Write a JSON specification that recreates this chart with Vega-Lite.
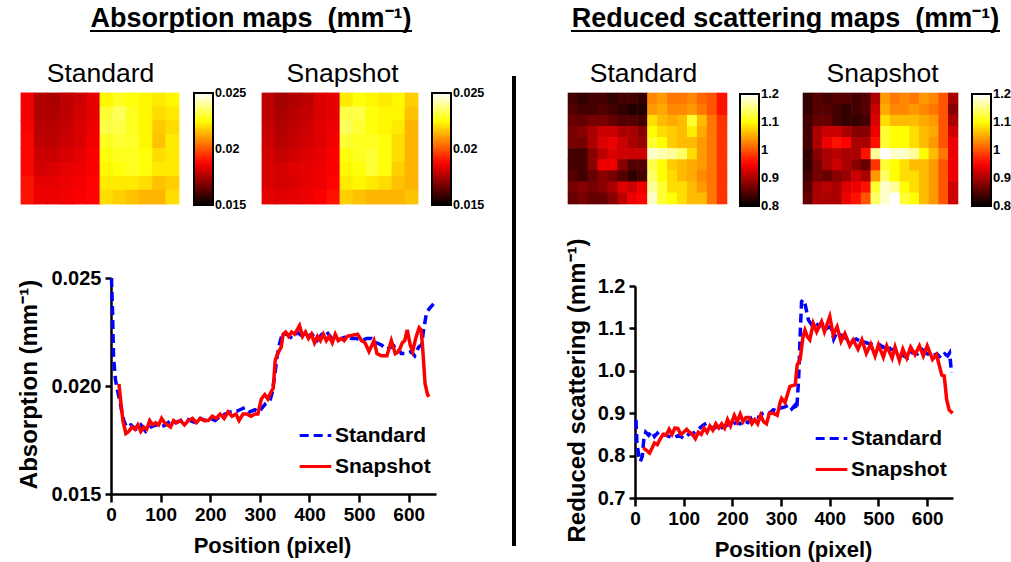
{"$schema":"https://vega.github.io/schema/vega-lite/v6.json","width":1011,"height":562,"autosize":{"type":"none"},"padding":0,"background":"white",
"config":{"view":{"stroke":null},"font":"Liberation Sans","axis":{"grid":false,"labelFlush":false,"labelFont":"Liberation Sans","titleFont":"Liberation Sans","labelColor":"#000","titleColor":"#000","domainColor":"#000","tickColor":"#000"},"legend":{"labelFont":"Liberation Sans","labelColor":"#000"}},
"datasets":{
"as":[{"c":1,"r":0,"v":0.0186},{"c":2,"r":0,"v":0.0176},{"c":3,"r":0,"v":0.0175},{"c":4,"r":0,"v":0.0178},{"c":5,"r":0,"v":0.018},{"c":6,"r":0,"v":0.0184},{"c":7,"r":0,"v":0.0224},{"c":8,"r":0,"v":0.0228},{"c":9,"r":0,"v":0.0226},{"c":10,"r":0,"v":0.0224},{"c":11,"r":0,"v":0.0222},{"c":12,"r":0,"v":0.0224},
{"c":1,"r":1,"v":0.0186},{"c":2,"r":1,"v":0.0176},{"c":3,"r":1,"v":0.0176},{"c":4,"r":1,"v":0.0178},{"c":5,"r":1,"v":0.0181},{"c":6,"r":1,"v":0.0184},{"c":7,"r":1,"v":0.023},{"c":8,"r":1,"v":0.0234},{"c":9,"r":1,"v":0.0228},{"c":10,"r":1,"v":0.0224},{"c":11,"r":1,"v":0.022},{"c":12,"r":1,"v":0.0222},
{"c":1,"r":2,"v":0.0187},{"c":2,"r":2,"v":0.0177},{"c":3,"r":2,"v":0.0177},{"c":4,"r":2,"v":0.0179},{"c":5,"r":2,"v":0.0182},{"c":6,"r":2,"v":0.0185},{"c":7,"r":2,"v":0.0232},{"c":8,"r":2,"v":0.0232},{"c":9,"r":2,"v":0.0228},{"c":10,"r":2,"v":0.0224},{"c":11,"r":2,"v":0.0217},{"c":12,"r":2,"v":0.022},
{"c":1,"r":3,"v":0.0188},{"c":2,"r":3,"v":0.0178},{"c":3,"r":3,"v":0.0178},{"c":4,"r":3,"v":0.018},{"c":5,"r":3,"v":0.0182},{"c":6,"r":3,"v":0.0186},{"c":7,"r":3,"v":0.0228},{"c":8,"r":3,"v":0.023},{"c":9,"r":3,"v":0.0229},{"c":10,"r":3,"v":0.0224},{"c":11,"r":3,"v":0.0216},{"c":12,"r":3,"v":0.0222},
{"c":1,"r":4,"v":0.0188},{"c":2,"r":4,"v":0.018},{"c":3,"r":4,"v":0.018},{"c":4,"r":4,"v":0.0182},{"c":5,"r":4,"v":0.0184},{"c":6,"r":4,"v":0.0187},{"c":7,"r":4,"v":0.0226},{"c":8,"r":4,"v":0.0228},{"c":9,"r":4,"v":0.0228},{"c":10,"r":4,"v":0.0226},{"c":11,"r":4,"v":0.022},{"c":12,"r":4,"v":0.0222},
{"c":1,"r":5,"v":0.0188},{"c":2,"r":5,"v":0.0181},{"c":3,"r":5,"v":0.0182},{"c":4,"r":5,"v":0.0184},{"c":5,"r":5,"v":0.0185},{"c":6,"r":5,"v":0.0187},{"c":7,"r":5,"v":0.0224},{"c":8,"r":5,"v":0.0226},{"c":9,"r":5,"v":0.0228},{"c":10,"r":5,"v":0.0226},{"c":11,"r":5,"v":0.0222},{"c":12,"r":5,"v":0.0222},
{"c":1,"r":6,"v":0.019},{"c":2,"r":6,"v":0.0184},{"c":3,"r":6,"v":0.0184},{"c":4,"r":6,"v":0.0185},{"c":5,"r":6,"v":0.0186},{"c":6,"r":6,"v":0.0188},{"c":7,"r":6,"v":0.0222},{"c":8,"r":6,"v":0.0222},{"c":9,"r":6,"v":0.0222},{"c":10,"r":6,"v":0.022},{"c":11,"r":6,"v":0.0216},{"c":12,"r":6,"v":0.0218},
{"c":1,"r":7,"v":0.019},{"c":2,"r":7,"v":0.0185},{"c":3,"r":7,"v":0.0185},{"c":4,"r":7,"v":0.0186},{"c":5,"r":7,"v":0.0187},{"c":6,"r":7,"v":0.0188},{"c":7,"r":7,"v":0.022},{"c":8,"r":7,"v":0.0218},{"c":9,"r":7,"v":0.0216},{"c":10,"r":7,"v":0.0214},{"c":11,"r":7,"v":0.0214},{"c":12,"r":7,"v":0.022}],
"ap":[{"c":1,"r":0,"v":0.0178},{"c":2,"r":0,"v":0.0174},{"c":3,"r":0,"v":0.0176},{"c":4,"r":0,"v":0.0178},{"c":5,"r":0,"v":0.0182},{"c":6,"r":0,"v":0.0184},{"c":7,"r":0,"v":0.0222},{"c":8,"r":0,"v":0.0226},{"c":9,"r":0,"v":0.0224},{"c":10,"r":0,"v":0.0222},{"c":11,"r":0,"v":0.0224},{"c":12,"r":0,"v":0.0218},
{"c":1,"r":1,"v":0.0178},{"c":2,"r":1,"v":0.0175},{"c":3,"r":1,"v":0.0177},{"c":4,"r":1,"v":0.0179},{"c":5,"r":1,"v":0.0182},{"c":6,"r":1,"v":0.0184},{"c":7,"r":1,"v":0.0232},{"c":8,"r":1,"v":0.0232},{"c":9,"r":1,"v":0.0226},{"c":10,"r":1,"v":0.0224},{"c":11,"r":1,"v":0.0224},{"c":12,"r":1,"v":0.0216},
{"c":1,"r":2,"v":0.0179},{"c":2,"r":2,"v":0.0176},{"c":3,"r":2,"v":0.0178},{"c":4,"r":2,"v":0.018},{"c":5,"r":2,"v":0.0183},{"c":6,"r":2,"v":0.0185},{"c":7,"r":2,"v":0.0234},{"c":8,"r":2,"v":0.023},{"c":9,"r":2,"v":0.0226},{"c":10,"r":2,"v":0.0224},{"c":11,"r":2,"v":0.0222},{"c":12,"r":2,"v":0.0214},
{"c":1,"r":3,"v":0.018},{"c":2,"r":3,"v":0.0177},{"c":3,"r":3,"v":0.0179},{"c":4,"r":3,"v":0.0181},{"c":5,"r":3,"v":0.0183},{"c":6,"r":3,"v":0.0186},{"c":7,"r":3,"v":0.023},{"c":8,"r":3,"v":0.0228},{"c":9,"r":3,"v":0.0228},{"c":10,"r":3,"v":0.0226},{"c":11,"r":3,"v":0.022},{"c":12,"r":3,"v":0.0214},
{"c":1,"r":4,"v":0.0181},{"c":2,"r":4,"v":0.0179},{"c":3,"r":4,"v":0.0181},{"c":4,"r":4,"v":0.0183},{"c":5,"r":4,"v":0.0184},{"c":6,"r":4,"v":0.0187},{"c":7,"r":4,"v":0.0226},{"c":8,"r":4,"v":0.0228},{"c":9,"r":4,"v":0.023},{"c":10,"r":4,"v":0.0226},{"c":11,"r":4,"v":0.022},{"c":12,"r":4,"v":0.0214},
{"c":1,"r":5,"v":0.0182},{"c":2,"r":5,"v":0.0181},{"c":3,"r":5,"v":0.0183},{"c":4,"r":5,"v":0.0184},{"c":5,"r":5,"v":0.0185},{"c":6,"r":5,"v":0.0187},{"c":7,"r":5,"v":0.0224},{"c":8,"r":5,"v":0.0226},{"c":9,"r":5,"v":0.023},{"c":10,"r":5,"v":0.0226},{"c":11,"r":5,"v":0.0218},{"c":12,"r":5,"v":0.0214},
{"c":1,"r":6,"v":0.0182},{"c":2,"r":6,"v":0.0181},{"c":3,"r":6,"v":0.0182},{"c":4,"r":6,"v":0.0184},{"c":5,"r":6,"v":0.0185},{"c":6,"r":6,"v":0.0188},{"c":7,"r":6,"v":0.0222},{"c":8,"r":6,"v":0.0224},{"c":9,"r":6,"v":0.0222},{"c":10,"r":6,"v":0.022},{"c":11,"r":6,"v":0.0216},{"c":12,"r":6,"v":0.0214},
{"c":1,"r":7,"v":0.0184},{"c":2,"r":7,"v":0.0183},{"c":3,"r":7,"v":0.0184},{"c":4,"r":7,"v":0.0185},{"c":5,"r":7,"v":0.0187},{"c":6,"r":7,"v":0.019},{"c":7,"r":7,"v":0.0218},{"c":8,"r":7,"v":0.0216},{"c":9,"r":7,"v":0.0214},{"c":10,"r":7,"v":0.0214},{"c":11,"r":7,"v":0.0214},{"c":12,"r":7,"v":0.0216}],
"ss":[{"c":1,"r":0,"v":0.84},{"c":2,"r":0,"v":0.83},{"c":3,"r":0,"v":0.84},{"c":4,"r":0,"v":0.84},{"c":5,"r":0,"v":0.83},{"c":6,"r":0,"v":0.84},{"c":7,"r":0,"v":0.84},{"c":8,"r":0,"v":0.83},{"c":9,"r":0,"v":1.03},{"c":10,"r":0,"v":1.04},{"c":11,"r":0,"v":1.02},{"c":12,"r":0,"v":1.02},{"c":13,"r":0,"v":1.03},{"c":14,"r":0,"v":1.01},{"c":15,"r":0,"v":1},{"c":16,"r":0,"v":0.96},
{"c":1,"r":1,"v":0.85},{"c":2,"r":1,"v":0.84},{"c":3,"r":1,"v":0.84},{"c":4,"r":1,"v":0.85},{"c":5,"r":1,"v":0.84},{"c":6,"r":1,"v":0.83},{"c":7,"r":1,"v":0.82},{"c":8,"r":1,"v":0.82},{"c":9,"r":1,"v":1.04},{"c":10,"r":1,"v":1.05},{"c":11,"r":1,"v":1.03},{"c":12,"r":1,"v":1.03},{"c":13,"r":1,"v":1.04},{"c":14,"r":1,"v":1.02},{"c":15,"r":1,"v":1},{"c":16,"r":1,"v":0.96},
{"c":1,"r":2,"v":0.86},{"c":2,"r":2,"v":0.86},{"c":3,"r":2,"v":0.87},{"c":4,"r":2,"v":0.87},{"c":5,"r":2,"v":0.86},{"c":6,"r":2,"v":0.85},{"c":7,"r":2,"v":0.85},{"c":8,"r":2,"v":0.84},{"c":9,"r":2,"v":1.08},{"c":10,"r":2,"v":1.06},{"c":11,"r":2,"v":1.05},{"c":12,"r":2,"v":1.06},{"c":13,"r":2,"v":1.12},{"c":14,"r":2,"v":1.06},{"c":15,"r":2,"v":1.02},{"c":16,"r":2,"v":0.98},
{"c":1,"r":3,"v":0.87},{"c":2,"r":3,"v":0.88},{"c":3,"r":3,"v":0.9},{"c":4,"r":3,"v":0.92},{"c":5,"r":3,"v":0.92},{"c":6,"r":3,"v":0.9},{"c":7,"r":3,"v":0.9},{"c":8,"r":3,"v":0.88},{"c":9,"r":3,"v":1.1},{"c":10,"r":3,"v":1.08},{"c":11,"r":3,"v":1.07},{"c":12,"r":3,"v":1.06},{"c":13,"r":3,"v":1.09},{"c":14,"r":3,"v":1.05},{"c":15,"r":3,"v":1.02},{"c":16,"r":3,"v":0.98},
{"c":1,"r":4,"v":0.87},{"c":2,"r":4,"v":0.87},{"c":3,"r":4,"v":0.9},{"c":4,"r":4,"v":0.93},{"c":5,"r":4,"v":0.94},{"c":6,"r":4,"v":0.92},{"c":7,"r":4,"v":0.9},{"c":8,"r":4,"v":0.89},{"c":9,"r":4,"v":1.12},{"c":10,"r":4,"v":1.1},{"c":11,"r":4,"v":1.07},{"c":12,"r":4,"v":1.06},{"c":13,"r":4,"v":1.06},{"c":14,"r":4,"v":1.04},{"c":15,"r":4,"v":1.02},{"c":16,"r":4,"v":0.98},
{"c":1,"r":5,"v":0.84},{"c":2,"r":5,"v":0.84},{"c":3,"r":5,"v":0.88},{"c":4,"r":5,"v":0.91},{"c":5,"r":5,"v":0.93},{"c":6,"r":5,"v":0.92},{"c":7,"r":5,"v":0.92},{"c":8,"r":5,"v":0.92},{"c":9,"r":5,"v":1.18},{"c":10,"r":5,"v":1.17},{"c":11,"r":5,"v":1.16},{"c":12,"r":5,"v":1.14},{"c":13,"r":5,"v":1.08},{"c":14,"r":5,"v":1.04},{"c":15,"r":5,"v":1.02},{"c":16,"r":5,"v":0.98},
{"c":1,"r":6,"v":0.84},{"c":2,"r":6,"v":0.84},{"c":3,"r":6,"v":0.88},{"c":4,"r":6,"v":0.94},{"c":5,"r":6,"v":0.94},{"c":6,"r":6,"v":0.88},{"c":7,"r":6,"v":0.85},{"c":8,"r":6,"v":0.85},{"c":9,"r":6,"v":1.13},{"c":10,"r":6,"v":1.1},{"c":11,"r":6,"v":1.07},{"c":12,"r":6,"v":1.06},{"c":13,"r":6,"v":1.05},{"c":14,"r":6,"v":1.04},{"c":15,"r":6,"v":1.02},{"c":16,"r":6,"v":0.98},
{"c":1,"r":7,"v":0.85},{"c":2,"r":7,"v":0.84},{"c":3,"r":7,"v":0.86},{"c":4,"r":7,"v":0.88},{"c":5,"r":7,"v":0.87},{"c":6,"r":7,"v":0.85},{"c":7,"r":7,"v":0.83},{"c":8,"r":7,"v":0.84},{"c":9,"r":7,"v":1.14},{"c":10,"r":7,"v":1.1},{"c":11,"r":7,"v":1.08},{"c":12,"r":7,"v":1.06},{"c":13,"r":7,"v":1.05},{"c":14,"r":7,"v":1.03},{"c":15,"r":7,"v":1.02},{"c":16,"r":7,"v":0.98},
{"c":1,"r":8,"v":0.87},{"c":2,"r":8,"v":0.88},{"c":3,"r":8,"v":0.87},{"c":4,"r":8,"v":0.88},{"c":5,"r":8,"v":0.9},{"c":6,"r":8,"v":0.93},{"c":7,"r":8,"v":0.92},{"c":8,"r":8,"v":0.94},{"c":9,"r":8,"v":1.16},{"c":10,"r":8,"v":1.12},{"c":11,"r":8,"v":1.08},{"c":12,"r":8,"v":1.08},{"c":13,"r":8,"v":1.06},{"c":14,"r":8,"v":1.04},{"c":15,"r":8,"v":1.02},{"c":16,"r":8,"v":0.98},
{"c":1,"r":9,"v":0.86},{"c":2,"r":9,"v":0.87},{"c":3,"r":9,"v":0.86},{"c":4,"r":9,"v":0.86},{"c":5,"r":9,"v":0.88},{"c":6,"r":9,"v":0.91},{"c":7,"r":9,"v":0.94},{"c":8,"r":9,"v":0.95},{"c":9,"r":9,"v":1.18},{"c":10,"r":9,"v":1.12},{"c":11,"r":9,"v":1.1},{"c":12,"r":9,"v":1.08},{"c":13,"r":9,"v":1.06},{"c":14,"r":9,"v":1.06},{"c":15,"r":9,"v":1.02},{"c":16,"r":9,"v":0.98}],
"sp":[{"c":1,"r":0,"v":0.83},{"c":2,"r":0,"v":0.85},{"c":3,"r":0,"v":0.84},{"c":4,"r":0,"v":0.85},{"c":5,"r":0,"v":0.85},{"c":6,"r":0,"v":0.84},{"c":7,"r":0,"v":0.85},{"c":8,"r":0,"v":0.9},{"c":9,"r":0,"v":1.04},{"c":10,"r":0,"v":1.02},{"c":11,"r":0,"v":1.03},{"c":12,"r":0,"v":1.02},{"c":13,"r":0,"v":1.04},{"c":14,"r":0,"v":1.03},{"c":15,"r":0,"v":1},{"c":16,"r":0,"v":0.9},
{"c":1,"r":1,"v":0.83},{"c":2,"r":1,"v":0.85},{"c":3,"r":1,"v":0.85},{"c":4,"r":1,"v":0.84},{"c":5,"r":1,"v":0.83},{"c":6,"r":1,"v":0.84},{"c":7,"r":1,"v":0.85},{"c":8,"r":1,"v":0.92},{"c":9,"r":1,"v":1.05},{"c":10,"r":1,"v":1.03},{"c":11,"r":1,"v":1.03},{"c":12,"r":1,"v":1.04},{"c":13,"r":1,"v":1.03},{"c":14,"r":1,"v":1.02},{"c":15,"r":1,"v":1},{"c":16,"r":1,"v":0.88},
{"c":1,"r":2,"v":0.84},{"c":2,"r":2,"v":0.86},{"c":3,"r":2,"v":0.86},{"c":4,"r":2,"v":0.84},{"c":5,"r":2,"v":0.83},{"c":6,"r":2,"v":0.83},{"c":7,"r":2,"v":0.84},{"c":8,"r":2,"v":0.93},{"c":9,"r":2,"v":1.08},{"c":10,"r":2,"v":1.06},{"c":11,"r":2,"v":1.06},{"c":12,"r":2,"v":1.06},{"c":13,"r":2,"v":1.05},{"c":14,"r":2,"v":1.04},{"c":15,"r":2,"v":1},{"c":16,"r":2,"v":0.9},
{"c":1,"r":3,"v":0.84},{"c":2,"r":3,"v":0.9},{"c":3,"r":3,"v":0.92},{"c":4,"r":3,"v":0.92},{"c":5,"r":3,"v":0.9},{"c":6,"r":3,"v":0.88},{"c":7,"r":3,"v":0.88},{"c":8,"r":3,"v":0.94},{"c":9,"r":3,"v":1.12},{"c":10,"r":3,"v":1.1},{"c":11,"r":3,"v":1.1},{"c":12,"r":3,"v":1.08},{"c":13,"r":3,"v":1.06},{"c":14,"r":3,"v":1.05},{"c":15,"r":3,"v":1},{"c":16,"r":3,"v":0.92},
{"c":1,"r":4,"v":0.84},{"c":2,"r":4,"v":0.9},{"c":3,"r":4,"v":0.94},{"c":4,"r":4,"v":0.96},{"c":5,"r":4,"v":0.95},{"c":6,"r":4,"v":0.9},{"c":7,"r":4,"v":0.9},{"c":8,"r":4,"v":0.96},{"c":9,"r":4,"v":1.12},{"c":10,"r":4,"v":1.1},{"c":11,"r":4,"v":1.1},{"c":12,"r":4,"v":1.08},{"c":13,"r":4,"v":1.06},{"c":14,"r":4,"v":1.04},{"c":15,"r":4,"v":1},{"c":16,"r":4,"v":0.94},
{"c":1,"r":5,"v":0.83},{"c":2,"r":5,"v":0.88},{"c":3,"r":5,"v":0.9},{"c":4,"r":5,"v":0.91},{"c":5,"r":5,"v":0.9},{"c":6,"r":5,"v":0.9},{"c":7,"r":5,"v":0.96},{"c":8,"r":5,"v":1.16},{"c":9,"r":5,"v":1.2},{"c":10,"r":5,"v":1.18},{"c":11,"r":5,"v":1.18},{"c":12,"r":5,"v":1.16},{"c":13,"r":5,"v":1.1},{"c":14,"r":5,"v":1.06},{"c":15,"r":5,"v":1.02},{"c":16,"r":5,"v":0.94},
{"c":1,"r":6,"v":0.83},{"c":2,"r":6,"v":0.87},{"c":3,"r":6,"v":0.9},{"c":4,"r":6,"v":0.92},{"c":5,"r":6,"v":0.9},{"c":6,"r":6,"v":0.88},{"c":7,"r":6,"v":0.86},{"c":8,"r":6,"v":0.98},{"c":9,"r":6,"v":1.12},{"c":10,"r":6,"v":1.1},{"c":11,"r":6,"v":1.08},{"c":12,"r":6,"v":1.06},{"c":13,"r":6,"v":1.06},{"c":14,"r":6,"v":1.04},{"c":15,"r":6,"v":1},{"c":16,"r":6,"v":0.94},
{"c":1,"r":7,"v":0.84},{"c":2,"r":7,"v":0.87},{"c":3,"r":7,"v":0.86},{"c":4,"r":7,"v":0.88},{"c":5,"r":7,"v":0.89},{"c":6,"r":7,"v":0.92},{"c":7,"r":7,"v":0.9},{"c":8,"r":7,"v":1.04},{"c":9,"r":7,"v":1.14},{"c":10,"r":7,"v":1.1},{"c":11,"r":7,"v":1.08},{"c":12,"r":7,"v":1.08},{"c":13,"r":7,"v":1.06},{"c":14,"r":7,"v":1.04},{"c":15,"r":7,"v":1},{"c":16,"r":7,"v":0.94},
{"c":1,"r":8,"v":0.85},{"c":2,"r":8,"v":0.9},{"c":3,"r":8,"v":0.91},{"c":4,"r":8,"v":0.9},{"c":5,"r":8,"v":0.93},{"c":6,"r":8,"v":0.94},{"c":7,"r":8,"v":0.96},{"c":8,"r":8,"v":1.12},{"c":9,"r":8,"v":1.18},{"c":10,"r":8,"v":1.16},{"c":11,"r":8,"v":1.1},{"c":12,"r":8,"v":1.08},{"c":13,"r":8,"v":1.06},{"c":14,"r":8,"v":1.04},{"c":15,"r":8,"v":1},{"c":16,"r":8,"v":0.92},
{"c":1,"r":9,"v":0.86},{"c":2,"r":9,"v":0.9},{"c":3,"r":9,"v":0.9},{"c":4,"r":9,"v":0.9},{"c":5,"r":9,"v":0.94},{"c":6,"r":9,"v":0.96},{"c":7,"r":9,"v":1},{"c":8,"r":9,"v":1.14},{"c":9,"r":9,"v":1.18},{"c":10,"r":9,"v":1.2},{"c":11,"r":9,"v":1.12},{"c":12,"r":9,"v":1.1},{"c":13,"r":9,"v":1.06},{"c":14,"r":9,"v":1.04},{"c":15,"r":9,"v":1},{"c":16,"r":9,"v":0.92}],
"la":[{"p":1,"s":"Standard","y":0.025},{"p":3,"s":"Standard","y":0.0235},{"p":5,"s":"Standard","y":0.0214},{"p":7,"s":"Standard","y":0.0208},{"p":9,"s":"Standard","y":0.0203},{"p":12,"s":"Standard","y":0.0199},{"p":14,"s":"Standard","y":0.0197},{"p":18,"s":"Standard","y":0.0193},{"p":21,"s":"Standard","y":0.0189},{"p":26,"s":"Standard","y":0.0184},{"p":31,"s":"Standard","y":0.0181},{"p":40,"s":"Standard","y":0.0182},{"p":50,"s":"Standard","y":0.018},{"p":60,"s":"Standard","y":0.0182},{"p":70,"s":"Standard","y":0.0179},{"p":80,"s":"Standard","y":0.0181},{"p":90,"s":"Standard","y":0.0182},{"p":100,"s":"Standard","y":0.0181},{"p":110,"s":"Standard","y":0.0182},{"p":120,"s":"Standard","y":0.0184},{"p":130,"s":"Standard","y":0.0183},{"p":140,"s":"Standard","y":0.0184},{"p":150,"s":"Standard","y":0.0185},{"p":160,"s":"Standard","y":0.0184},{"p":170,"s":"Standard","y":0.0183},{"p":180,"s":"Standard","y":0.0185},{"p":190,"s":"Standard","y":0.0184},{"p":200,"s":"Standard","y":0.0185},{"p":210,"s":"Standard","y":0.0184},{"p":220,"s":"Standard","y":0.0186},{"p":230,"s":"Standard","y":0.0187},{"p":240,"s":"Standard","y":0.0188},{"p":250,"s":"Standard","y":0.0188},{"p":260,"s":"Standard","y":0.0189},{"p":270,"s":"Standard","y":0.019},{"p":280,"s":"Standard","y":0.0188},{"p":290,"s":"Standard","y":0.0189},{"p":298,"s":"Standard","y":0.0188},{"p":305,"s":"Standard","y":0.019},{"p":312,"s":"Standard","y":0.0192},{"p":320,"s":"Standard","y":0.0193},{"p":325,"s":"Standard","y":0.0197},{"p":330,"s":"Standard","y":0.0205},{"p":335,"s":"Standard","y":0.0214},{"p":340,"s":"Standard","y":0.022},{"p":345,"s":"Standard","y":0.0224},{"p":355,"s":"Standard","y":0.0224},{"p":365,"s":"Standard","y":0.0222},{"p":375,"s":"Standard","y":0.0225},{"p":385,"s":"Standard","y":0.0223},{"p":395,"s":"Standard","y":0.0223},{"p":405,"s":"Standard","y":0.0224},{"p":415,"s":"Standard","y":0.0221},{"p":425,"s":"Standard","y":0.0224},{"p":435,"s":"Standard","y":0.0225},{"p":445,"s":"Standard","y":0.0222},{"p":455,"s":"Standard","y":0.0221},{"p":465,"s":"Standard","y":0.0222},{"p":475,"s":"Standard","y":0.0223},{"p":485,"s":"Standard","y":0.0222},{"p":495,"s":"Standard","y":0.0222},{"p":505,"s":"Standard","y":0.0221},{"p":515,"s":"Standard","y":0.0222},{"p":525,"s":"Standard","y":0.0222},{"p":535,"s":"Standard","y":0.022},{"p":545,"s":"Standard","y":0.0219},{"p":555,"s":"Standard","y":0.0217},{"p":565,"s":"Standard","y":0.0218},{"p":575,"s":"Standard","y":0.0219},{"p":585,"s":"Standard","y":0.0215},{"p":595,"s":"Standard","y":0.0215},{"p":605,"s":"Standard","y":0.0216},{"p":612,"s":"Standard","y":0.0214},{"p":620,"s":"Standard","y":0.0218},{"p":626,"s":"Standard","y":0.0219},{"p":630,"s":"Standard","y":0.0226},{"p":636,"s":"Standard","y":0.0234},{"p":642,"s":"Standard","y":0.0236},{"p":650,"s":"Standard","y":0.0238},
{"p":16,"s":"Snapshot","y":0.0201},{"p":20,"s":"Snapshot","y":0.0192},{"p":24,"s":"Snapshot","y":0.0184},{"p":30,"s":"Snapshot","y":0.0178},{"p":36,"s":"Snapshot","y":0.0179},{"p":42,"s":"Snapshot","y":0.0181},{"p":48,"s":"Snapshot","y":0.018},{"p":54,"s":"Snapshot","y":0.0182},{"p":60,"s":"Snapshot","y":0.0179},{"p":66,"s":"Snapshot","y":0.0181},{"p":72,"s":"Snapshot","y":0.018},{"p":78,"s":"Snapshot","y":0.0184},{"p":84,"s":"Snapshot","y":0.0182},{"p":90,"s":"Snapshot","y":0.0183},{"p":96,"s":"Snapshot","y":0.0182},{"p":102,"s":"Snapshot","y":0.0185},{"p":108,"s":"Snapshot","y":0.0183},{"p":114,"s":"Snapshot","y":0.0182},{"p":120,"s":"Snapshot","y":0.0181},{"p":126,"s":"Snapshot","y":0.0184},{"p":132,"s":"Snapshot","y":0.0183},{"p":140,"s":"Snapshot","y":0.0184},{"p":148,"s":"Snapshot","y":0.0182},{"p":156,"s":"Snapshot","y":0.0184},{"p":164,"s":"Snapshot","y":0.0185},{"p":172,"s":"Snapshot","y":0.0183},{"p":180,"s":"Snapshot","y":0.0185},{"p":188,"s":"Snapshot","y":0.0184},{"p":196,"s":"Snapshot","y":0.0184},{"p":204,"s":"Snapshot","y":0.0186},{"p":212,"s":"Snapshot","y":0.0185},{"p":220,"s":"Snapshot","y":0.0187},{"p":228,"s":"Snapshot","y":0.0185},{"p":236,"s":"Snapshot","y":0.0188},{"p":244,"s":"Snapshot","y":0.0186},{"p":252,"s":"Snapshot","y":0.0187},{"p":258,"s":"Snapshot","y":0.0184},{"p":266,"s":"Snapshot","y":0.0187},{"p":274,"s":"Snapshot","y":0.0187},{"p":282,"s":"Snapshot","y":0.0186},{"p":290,"s":"Snapshot","y":0.0187},{"p":296,"s":"Snapshot","y":0.0187},{"p":303,"s":"Snapshot","y":0.0194},{"p":310,"s":"Snapshot","y":0.0196},{"p":316,"s":"Snapshot","y":0.0194},{"p":322,"s":"Snapshot","y":0.0197},{"p":327,"s":"Snapshot","y":0.0199},{"p":331,"s":"Snapshot","y":0.0212},{"p":336,"s":"Snapshot","y":0.0215},{"p":343,"s":"Snapshot","y":0.0218},{"p":347,"s":"Snapshot","y":0.0224},{"p":352,"s":"Snapshot","y":0.0225},{"p":358,"s":"Snapshot","y":0.0223},{"p":364,"s":"Snapshot","y":0.0225},{"p":370,"s":"Snapshot","y":0.0224},{"p":380,"s":"Snapshot","y":0.0228},{"p":386,"s":"Snapshot","y":0.0223},{"p":392,"s":"Snapshot","y":0.0225},{"p":398,"s":"Snapshot","y":0.0222},{"p":404,"s":"Snapshot","y":0.0224},{"p":410,"s":"Snapshot","y":0.022},{"p":416,"s":"Snapshot","y":0.0223},{"p":422,"s":"Snapshot","y":0.0221},{"p":428,"s":"Snapshot","y":0.0224},{"p":434,"s":"Snapshot","y":0.0221},{"p":440,"s":"Snapshot","y":0.0223},{"p":446,"s":"Snapshot","y":0.022},{"p":452,"s":"Snapshot","y":0.0224},{"p":458,"s":"Snapshot","y":0.0221},{"p":464,"s":"Snapshot","y":0.0222},{"p":470,"s":"Snapshot","y":0.0221},{"p":476,"s":"Snapshot","y":0.0223},{"p":497,"s":"Snapshot","y":0.0224},{"p":505,"s":"Snapshot","y":0.0221},{"p":512,"s":"Snapshot","y":0.022},{"p":520,"s":"Snapshot","y":0.0216},{"p":530,"s":"Snapshot","y":0.0221},{"p":536,"s":"Snapshot","y":0.0215},{"p":545,"s":"Snapshot","y":0.0214},{"p":556,"s":"Snapshot","y":0.0214},{"p":565,"s":"Snapshot","y":0.0221},{"p":573,"s":"Snapshot","y":0.0215},{"p":580,"s":"Snapshot","y":0.0216},{"p":587,"s":"Snapshot","y":0.022},{"p":592,"s":"Snapshot","y":0.0221},{"p":597,"s":"Snapshot","y":0.0226},{"p":603,"s":"Snapshot","y":0.0219},{"p":608,"s":"Snapshot","y":0.0216},{"p":614,"s":"Snapshot","y":0.0222},{"p":621,"s":"Snapshot","y":0.0227},{"p":625,"s":"Snapshot","y":0.0226},{"p":628,"s":"Snapshot","y":0.0218},{"p":633,"s":"Snapshot","y":0.0201},{"p":638,"s":"Snapshot","y":0.0196},{"p":641,"s":"Snapshot","y":0.0195}],
"ls":[{"p":2,"s":"Standard","y":0.884},{"p":4,"s":"Standard","y":0.83},{"p":8,"s":"Standard","y":0.798},{"p":11,"s":"Standard","y":0.786},{"p":15,"s":"Standard","y":0.798},{"p":18,"s":"Standard","y":0.837},{"p":22,"s":"Standard","y":0.855},{"p":28,"s":"Standard","y":0.848},{"p":34,"s":"Standard","y":0.857},{"p":40,"s":"Standard","y":0.845},{"p":46,"s":"Standard","y":0.853},{"p":52,"s":"Standard","y":0.845},{"p":60,"s":"Standard","y":0.85},{"p":70,"s":"Standard","y":0.845},{"p":80,"s":"Standard","y":0.842},{"p":90,"s":"Standard","y":0.848},{"p":100,"s":"Standard","y":0.841},{"p":110,"s":"Standard","y":0.85},{"p":120,"s":"Standard","y":0.853},{"p":130,"s":"Standard","y":0.862},{"p":140,"s":"Standard","y":0.872},{"p":148,"s":"Standard","y":0.877},{"p":156,"s":"Standard","y":0.865},{"p":164,"s":"Standard","y":0.868},{"p":172,"s":"Standard","y":0.86},{"p":180,"s":"Standard","y":0.868},{"p":190,"s":"Standard","y":0.872},{"p":199,"s":"Standard","y":0.873},{"p":208,"s":"Standard","y":0.878},{"p":216,"s":"Standard","y":0.875},{"p":224,"s":"Standard","y":0.882},{"p":232,"s":"Standard","y":0.878},{"p":240,"s":"Standard","y":0.89},{"p":247,"s":"Standard","y":0.892},{"p":256,"s":"Standard","y":0.89},{"p":262,"s":"Standard","y":0.9},{"p":268,"s":"Standard","y":0.904},{"p":276,"s":"Standard","y":0.9},{"p":284,"s":"Standard","y":0.908},{"p":292,"s":"Standard","y":0.905},{"p":299,"s":"Standard","y":0.912},{"p":308,"s":"Standard","y":0.915},{"p":316,"s":"Standard","y":0.92},{"p":322,"s":"Standard","y":0.91},{"p":328,"s":"Standard","y":0.918},{"p":332,"s":"Standard","y":0.908},{"p":336,"s":"Standard","y":0.979},{"p":339,"s":"Standard","y":1.08},{"p":342,"s":"Standard","y":1.163},{"p":345,"s":"Standard","y":1.168},{"p":349,"s":"Standard","y":1.159},{"p":356,"s":"Standard","y":1.12},{"p":362,"s":"Standard","y":1.11},{"p":370,"s":"Standard","y":1.115},{"p":378,"s":"Standard","y":1.105},{"p":386,"s":"Standard","y":1.11},{"p":394,"s":"Standard","y":1.1},{"p":402,"s":"Standard","y":1.105},{"p":408,"s":"Standard","y":1.075},{"p":414,"s":"Standard","y":1.09},{"p":422,"s":"Standard","y":1.085},{"p":430,"s":"Standard","y":1.08},{"p":438,"s":"Standard","y":1.07},{"p":446,"s":"Standard","y":1.07},{"p":454,"s":"Standard","y":1.075},{"p":462,"s":"Standard","y":1.07},{"p":470,"s":"Standard","y":1.068},{"p":478,"s":"Standard","y":1.065},{"p":486,"s":"Standard","y":1.063},{"p":494,"s":"Standard","y":1.06},{"p":502,"s":"Standard","y":1.062},{"p":510,"s":"Standard","y":1.055},{"p":518,"s":"Standard","y":1.06},{"p":526,"s":"Standard","y":1.05},{"p":534,"s":"Standard","y":1.05},{"p":542,"s":"Standard","y":1.04},{"p":552,"s":"Standard","y":1.035},{"p":560,"s":"Standard","y":1.03},{"p":570,"s":"Standard","y":1.045},{"p":580,"s":"Standard","y":1.04},{"p":590,"s":"Standard","y":1.05},{"p":600,"s":"Standard","y":1.04},{"p":610,"s":"Standard","y":1.035},{"p":620,"s":"Standard","y":1.04},{"p":628,"s":"Standard","y":1.03},{"p":636,"s":"Standard","y":1.04},{"p":642,"s":"Standard","y":1.035},{"p":646,"s":"Standard","y":1.042},{"p":650,"s":"Standard","y":0.995},
{"p":17,"s":"Snapshot","y":0.818},{"p":24,"s":"Snapshot","y":0.812},{"p":30,"s":"Snapshot","y":0.806},{"p":36,"s":"Snapshot","y":0.82},{"p":40,"s":"Snapshot","y":0.83},{"p":46,"s":"Snapshot","y":0.826},{"p":52,"s":"Snapshot","y":0.84},{"p":58,"s":"Snapshot","y":0.85},{"p":64,"s":"Snapshot","y":0.848},{"p":70,"s":"Snapshot","y":0.862},{"p":76,"s":"Snapshot","y":0.85},{"p":82,"s":"Snapshot","y":0.865},{"p":88,"s":"Snapshot","y":0.864},{"p":94,"s":"Snapshot","y":0.85},{"p":100,"s":"Snapshot","y":0.855},{"p":106,"s":"Snapshot","y":0.862},{"p":112,"s":"Snapshot","y":0.855},{"p":118,"s":"Snapshot","y":0.85},{"p":124,"s":"Snapshot","y":0.84},{"p":130,"s":"Snapshot","y":0.855},{"p":136,"s":"Snapshot","y":0.85},{"p":142,"s":"Snapshot","y":0.865},{"p":148,"s":"Snapshot","y":0.855},{"p":154,"s":"Snapshot","y":0.87},{"p":160,"s":"Snapshot","y":0.86},{"p":166,"s":"Snapshot","y":0.875},{"p":172,"s":"Snapshot","y":0.865},{"p":178,"s":"Snapshot","y":0.875},{"p":184,"s":"Snapshot","y":0.865},{"p":190,"s":"Snapshot","y":0.885},{"p":196,"s":"Snapshot","y":0.87},{"p":204,"s":"Snapshot","y":0.895},{"p":210,"s":"Snapshot","y":0.88},{"p":216,"s":"Snapshot","y":0.898},{"p":222,"s":"Snapshot","y":0.88},{"p":228,"s":"Snapshot","y":0.89},{"p":234,"s":"Snapshot","y":0.89},{"p":240,"s":"Snapshot","y":0.875},{"p":246,"s":"Snapshot","y":0.885},{"p":252,"s":"Snapshot","y":0.875},{"p":258,"s":"Snapshot","y":0.895},{"p":264,"s":"Snapshot","y":0.88},{"p":270,"s":"Snapshot","y":0.875},{"p":276,"s":"Snapshot","y":0.9},{"p":284,"s":"Snapshot","y":0.9},{"p":292,"s":"Snapshot","y":0.895},{"p":298,"s":"Snapshot","y":0.925},{"p":301,"s":"Snapshot","y":0.935},{"p":308,"s":"Snapshot","y":0.925},{"p":318,"s":"Snapshot","y":0.963},{"p":329,"s":"Snapshot","y":0.967},{"p":333,"s":"Snapshot","y":1.014},{"p":339,"s":"Snapshot","y":1.026},{"p":345,"s":"Snapshot","y":1.08},{"p":349,"s":"Snapshot","y":1.096},{"p":354,"s":"Snapshot","y":1.08},{"p":359,"s":"Snapshot","y":1.073},{"p":366,"s":"Snapshot","y":1.112},{"p":373,"s":"Snapshot","y":1.092},{"p":383,"s":"Snapshot","y":1.116},{"p":389,"s":"Snapshot","y":1.092},{"p":400,"s":"Snapshot","y":1.128},{"p":407,"s":"Snapshot","y":1.085},{"p":415,"s":"Snapshot","y":1.104},{"p":423,"s":"Snapshot","y":1.069},{"p":431,"s":"Snapshot","y":1.088},{"p":441,"s":"Snapshot","y":1.059},{"p":448,"s":"Snapshot","y":1.073},{"p":458,"s":"Snapshot","y":1.051},{"p":466,"s":"Snapshot","y":1.073},{"p":475,"s":"Snapshot","y":1.041},{"p":484,"s":"Snapshot","y":1.063},{"p":493,"s":"Snapshot","y":1.035},{"p":500,"s":"Snapshot","y":1.061},{"p":510,"s":"Snapshot","y":1.032},{"p":517,"s":"Snapshot","y":1.059},{"p":528,"s":"Snapshot","y":1.03},{"p":534,"s":"Snapshot","y":1.056},{"p":543,"s":"Snapshot","y":1.024},{"p":550,"s":"Snapshot","y":1.051},{"p":558,"s":"Snapshot","y":1.03},{"p":566,"s":"Snapshot","y":1.056},{"p":575,"s":"Snapshot","y":1.038},{"p":584,"s":"Snapshot","y":1.059},{"p":592,"s":"Snapshot","y":1.035},{"p":600,"s":"Snapshot","y":1.059},{"p":611,"s":"Snapshot","y":1.027},{"p":619,"s":"Snapshot","y":1.038},{"p":630,"s":"Snapshot","y":0.99},{"p":635,"s":"Snapshot","y":0.988},{"p":640,"s":"Snapshot","y":0.932},{"p":645,"s":"Snapshot","y":0.908},{"p":652,"s":"Snapshot","y":0.9}]
},
"resolve":{"scale":{"x":"independent","y":"independent","color":"independent","strokeDash":"independent"},"axis":{"x":"independent","y":"independent"},"legend":{"color":"independent","strokeDash":"independent"}},
"layer":[
{"data":{"name":"as"},"mark":{"type":"rect","width":{"band":1.06},"height":{"band":1.06}},"encoding":{"x":{"field":"c","type":"ordinal","scale":{"range":[21,179],"paddingInner":0,"paddingOuter":0},"axis":{"orient":"top","offset":-93,"domain":false,"ticks":false,"labels":false,"title":"Standard","titleFontSize":26.5,"titleFontWeight":"normal","titleX":100,"titleY":-12,"titleAlign":"center","titleBaseline":"alphabetic"}},"y":{"field":"r","type":"ordinal","scale":{"range":[93,204],"paddingInner":0,"paddingOuter":0},"axis":null},"color":{"field":"v","type":"quantitative","scale":{"domain":[0.015,0.01875,0.0225,0.025],"range":["#000000","#ff0000","#ffff00","#ffffff"],"interpolate":"rgb"},"legend":{"orient":"none","legendX":194,"legendY":93,"title":null,"values":[0.015,0.02,0.025],"gradientLength":112,"gradientThickness":19,"gradientStrokeColor":"#000","gradientStrokeWidth":2,"labelFontSize":12.5,"labelFontWeight":"bold","labelOffset":2,"labelOverlap":false,"format":"~g","encode":{"labels":{"update":{"baseline":{"value":"middle"}}}}}}}},
{"data":{"name":"ap"},"mark":{"type":"rect","width":{"band":1.06},"height":{"band":1.06}},"encoding":{"x":{"field":"c","type":"ordinal","scale":{"range":[262,418],"paddingInner":0,"paddingOuter":0},"axis":{"orient":"top","offset":-93,"domain":false,"ticks":false,"labels":false,"title":"Snapshot","titleFontSize":26.5,"titleFontWeight":"normal","titleX":342,"titleY":-12,"titleAlign":"center","titleBaseline":"alphabetic"}},"y":{"field":"r","type":"ordinal","scale":{"range":[93,204],"paddingInner":0,"paddingOuter":0},"axis":null},"color":{"field":"v","type":"quantitative","scale":{"domain":[0.015,0.01875,0.0225,0.025],"range":["#000000","#ff0000","#ffff00","#ffffff"],"interpolate":"rgb"},"legend":{"orient":"none","legendX":432,"legendY":93,"title":null,"values":[0.015,0.02,0.025],"gradientLength":112,"gradientThickness":19,"gradientStrokeColor":"#000","gradientStrokeWidth":2,"labelFontSize":12.5,"labelFontWeight":"bold","labelOffset":2,"labelOverlap":false,"format":"~g","encode":{"labels":{"update":{"baseline":{"value":"middle"}}}}}}}},
{"data":{"name":"ss"},"mark":{"type":"rect","width":{"band":1.06},"height":{"band":1.06}},"encoding":{"x":{"field":"c","type":"ordinal","scale":{"range":[568,727],"paddingInner":0,"paddingOuter":0},"axis":{"orient":"top","offset":-93,"domain":false,"ticks":false,"labels":false,"title":"Standard","titleFontSize":26.5,"titleFontWeight":"normal","titleX":643,"titleY":-12,"titleAlign":"center","titleBaseline":"alphabetic"}},"y":{"field":"r","type":"ordinal","scale":{"range":[93,204],"paddingInner":0,"paddingOuter":0},"axis":null},"color":{"field":"v","type":"quantitative","scale":{"domain":[0.8,0.95,1.1,1.2],"range":["#000000","#ff0000","#ffff00","#ffffff"],"interpolate":"rgb"},"legend":{"orient":"none","legendX":740,"legendY":94,"title":null,"values":[0.8,0.9,1,1.1,1.2],"gradientLength":112,"gradientThickness":19,"gradientStrokeColor":"#000","gradientStrokeWidth":2,"labelFontSize":13,"labelFontWeight":"bold","labelOffset":2,"labelOverlap":false,"format":"~g","encode":{"labels":{"update":{"baseline":{"value":"middle"}}}}}}}},
{"data":{"name":"sp"},"mark":{"type":"rect","width":{"band":1.06},"height":{"band":1.06}},"encoding":{"x":{"field":"c","type":"ordinal","scale":{"range":[803,958],"paddingInner":0,"paddingOuter":0},"axis":{"orient":"top","offset":-93,"domain":false,"ticks":false,"labels":false,"title":"Snapshot","titleFontSize":26.5,"titleFontWeight":"normal","titleX":882,"titleY":-12,"titleAlign":"center","titleBaseline":"alphabetic"}},"y":{"field":"r","type":"ordinal","scale":{"range":[93,204],"paddingInner":0,"paddingOuter":0},"axis":null},"color":{"field":"v","type":"quantitative","scale":{"domain":[0.8,0.95,1.1,1.2],"range":["#000000","#ff0000","#ffff00","#ffffff"],"interpolate":"rgb"},"legend":{"orient":"none","legendX":972,"legendY":94,"title":null,"values":[0.8,0.9,1,1.1,1.2],"gradientLength":112,"gradientThickness":19,"gradientStrokeColor":"#000","gradientStrokeWidth":2,"labelFontSize":13,"labelFontWeight":"bold","labelOffset":2,"labelOverlap":false,"format":"~g","encode":{"labels":{"update":{"baseline":{"value":"middle"}}}}}}}},
{"data":{"name":"la"},"mark":{"type":"line","strokeWidth":3.5},"encoding":{"x":{"field":"p","type":"quantitative","scale":{"domain":[0,655],"range":[111,436],"nice":false},"axis":{"orient":"bottom","offset":-68,"values":[0,100,200,300,400,500,600],"title":"Position (pixel)","titleFontSize":22,"titleFontWeight":"bold","titleX":272,"titleY":58,"titleAlign":"center","titleBaseline":"alphabetic","labelFontSize":19,"labelFontWeight":"bold","labelPadding":3,"domainWidth":2.5,"tickWidth":2.5,"tickSize":8}},"y":{"field":"y","type":"quantitative","scale":{"domain":[0.015,0.025],"range":[494,278],"nice":false,"zero":false},"axis":{"orient":"left","offset":-111,"values":[0.015,0.02,0.025],"format":".3f","title":"Absorption (mm⁻¹)","titleFontSize":24,"titleFontWeight":"bold","titleX":-75,"titleY":384,"titleAlign":"center","titleBaseline":"alphabetic","titleAngle":-90,"labelFontSize":20,"labelFontWeight":"bold","labelPadding":4,"domainWidth":2.5,"tickWidth":2.5,"tickSize":6}},"color":{"field":"s","type":"nominal","sort":["Standard","Snapshot"],"scale":{"domain":["Standard","Snapshot"],"range":["#0000ff","#ff0000"]},"legend":{"orient":"none","legendX":298,"legendY":418,"title":null,"labelFontSize":21,"labelFontWeight":"bold","symbolType":"stroke","symbolSize":1000,"symbolStrokeWidth":3,"labelOffset":2,"rowPadding":3}},"strokeDash":{"field":"s","type":"nominal","sort":["Standard","Snapshot"],"scale":{"domain":["Standard","Snapshot"],"range":[[9,5],[1,0]]},"legend":{"orient":"none","legendX":298,"legendY":418,"title":null,"labelFontSize":21,"labelFontWeight":"bold","symbolType":"stroke","symbolSize":1000,"symbolStrokeWidth":3,"labelOffset":2,"rowPadding":3}}}},
{"data":{"name":"ls"},"mark":{"type":"line","strokeWidth":3.5},"encoding":{"x":{"field":"p","type":"quantitative","scale":{"domain":[0,653],"range":[635,953],"nice":false},"axis":{"orient":"bottom","offset":-64,"values":[0,100,200,300,400,500,600],"title":"Position (pixel)","titleFontSize":22,"titleFontWeight":"bold","titleX":793,"titleY":58,"titleAlign":"center","titleBaseline":"alphabetic","labelFontSize":19,"labelFontWeight":"bold","labelPadding":3,"domainWidth":2.5,"tickWidth":2.5,"tickSize":8}},"y":{"field":"y","type":"quantitative","scale":{"domain":[0.7,1.2],"range":[498,286],"nice":false,"zero":false},"axis":{"orient":"left","offset":-635,"values":[0.7,0.8,0.9,1,1.1,1.2],"format":".1f","title":"Reduced scattering (mm⁻¹)","titleFontSize":24,"titleFontWeight":"bold","titleX":-51,"titleY":390,"titleAlign":"center","titleBaseline":"alphabetic","titleAngle":-90,"labelFontSize":20,"labelFontWeight":"bold","labelPadding":4,"domainWidth":2.5,"tickWidth":2.5,"tickSize":6}},"color":{"field":"s","type":"nominal","sort":["Standard","Snapshot"],"scale":{"domain":["Standard","Snapshot"],"range":["#0000ff","#ff0000"]},"legend":{"orient":"none","legendX":814,"legendY":421,"title":null,"labelFontSize":21,"labelFontWeight":"bold","symbolType":"stroke","symbolSize":1000,"symbolStrokeWidth":3,"labelOffset":2,"rowPadding":3}},"strokeDash":{"field":"s","type":"nominal","sort":["Standard","Snapshot"],"scale":{"domain":["Standard","Snapshot"],"range":[[9,5],[1,0]]},"legend":{"orient":"none","legendX":814,"legendY":421,"title":null,"labelFontSize":21,"labelFontWeight":"bold","symbolType":"stroke","symbolSize":1000,"symbolStrokeWidth":3,"labelOffset":2,"rowPadding":3}}}},
{"data":{"values":[{"k":"a","t":"Absorption maps \u00a0(mm⁻¹)"},{"k":"r","t":"Reduced scattering maps \u00a0(mm⁻¹)"}]},"mark":{"type":"text","font":"Liberation Sans","fontWeight":"bold","fontSize":27,"align":"center","baseline":"alphabetic","color":"#000"},"encoding":{"x":{"field":"k","type":"nominal","scale":{"type":"point","domain":["a","r"],"range":[251,785.5],"padding":0},"axis":null},"y":{"field":"k","type":"nominal","scale":{"type":"point","domain":["a","r"],"range":[27,27],"padding":0},"axis":null},"text":{"field":"t"}}},
{"data":{"values":[{"a":0,"b":1}]},"mark":{"type":"rule","strokeWidth":2,"color":"#000"},"encoding":{"x":{"field":"a","type":"quantitative","scale":{"domain":[0,1],"range":[90,412]},"axis":null},"x2":{"field":"b"},"y":{"field":"a","type":"quantitative","scale":{"domain":[0,1],"range":[31,31]},"axis":null}}},
{"data":{"values":[{"a":0,"b":1}]},"mark":{"type":"rule","strokeWidth":2,"color":"#000"},"encoding":{"x":{"field":"a","type":"quantitative","scale":{"domain":[0,1],"range":[571,1000]},"axis":null},"x2":{"field":"b"},"y":{"field":"a","type":"quantitative","scale":{"domain":[0,1],"range":[31,31]},"axis":null}}},
{"data":{"values":[{"a":0,"b":1}]},"mark":{"type":"rule","strokeWidth":4,"color":"#000"},"encoding":{"x":{"field":"a","type":"quantitative","scale":{"domain":[0,1],"range":[514,514]},"axis":null},"y":{"field":"a","type":"quantitative","scale":{"domain":[0,1],"range":[76,546]},"axis":null},"y2":{"field":"b"}}}
]}
